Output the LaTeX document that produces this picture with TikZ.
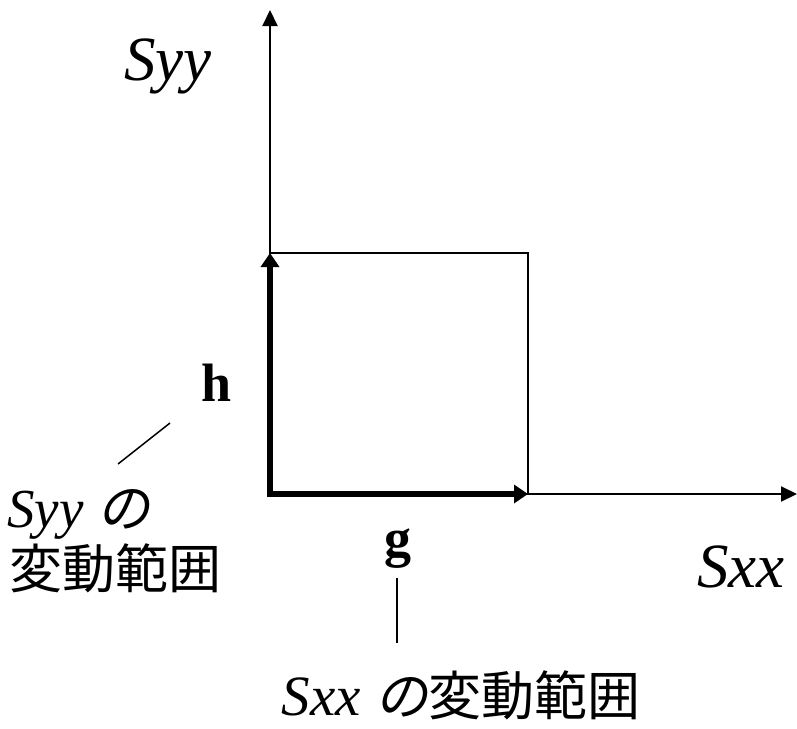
\documentclass[tikz,border=0pt]{standalone}
\usepackage{fontspec}
\setmainfont{Liberation Serif}[ItalicFont={Liberation Serif Italic},BoldFont={Liberation Serif Bold}]
\newfontfamily\lit{Liberation Serif Italic}
\newfontfamily\cjk{Noto Sans CJK JP}
\newfontfamily\cjkit{Noto Sans CJK JP}[FakeSlant=0.2]
\usetikzlibrary{arrows.meta}
\begin{document}
\begin{tikzpicture}[x=1pt,y=-1pt,
  axisline/.style={line width=2pt,-{Triangle[length=16pt,width=15pt]}},
  rangearrow/.style={line width=6pt,-{Triangle[length=14pt,width=18pt]}},
  lead/.style={line width=1.5pt},
  lat/.style={font=\fontsize{63}{66}\selectfont\lit, inner sep=0pt},
  boldlbl/.style={font=\fontsize{54}{58}\selectfont\bfseries, inner sep=0pt},
  jp/.style={font=\fontsize{53}{56}\selectfont\cjk, inner sep=0pt}]
\useasboundingbox (0,0) rectangle (797,728);
\coordinate (O) at (270,494);
\coordinate (ytip) at (270,10);
\coordinate (xtip) at (797,494);
\coordinate (H) at (270,253);
\coordinate (G) at (528,494);
\draw[line width=1.5pt] (O) rectangle (528,253);
\draw[axisline] (O) -- (ytip);
\draw[axisline] (O) -- (xtip);
\draw[rangearrow] ([yshift=3pt]O) -- (H);
\draw[rangearrow] ([xshift=-3pt]O) -- (G);
\node[lat,anchor=base] (syy) at (168,80) {Syy};
\node[lat,anchor=base] (sxx) at (741,587) {Sxx};
\node[boldlbl,anchor=base] (h) at (217,401) {h};
\node[boldlbl,anchor=base] (g) at (398,556) {g};
\node[anchor=base west,inner sep=0pt] (syyl) at (7,527) {\fontsize{55}{56}\selectfont\lit Syy \fontsize{53}{56}\selectfont\cjkit の};
\node[jp,anchor=base west] (syyr) at (9,588) {変動範囲};
\node[anchor=base,inner sep=0pt] (sxxl) at (461,715) {\fontsize{57}{56}\selectfont\lit Sxx \fontsize{53}{56}\selectfont\cjkit の\cjk 変動範囲};
\coordinate (a1) at (170,423);
\coordinate (a2) at (118,464);
\coordinate (b1) at (397,578);
\coordinate (b2) at (397,643);
\draw[lead] (a1) -- (a2);
\draw[lead] (b1) -- (b2);
\end{tikzpicture}
\end{document}
